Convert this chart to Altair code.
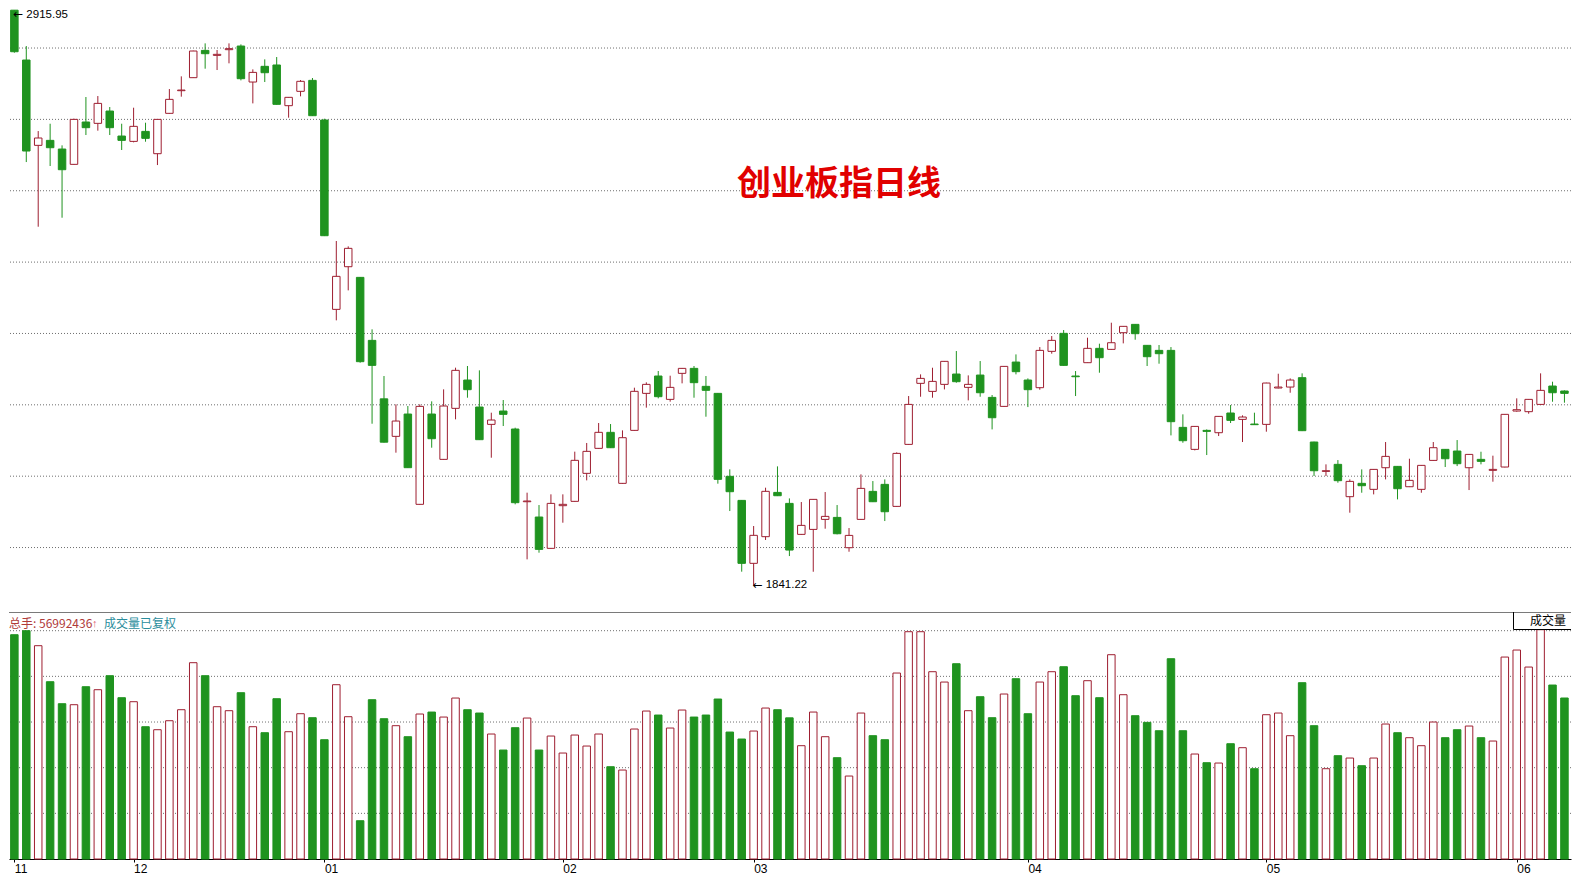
import altair as alt
import pandas as pd

# ---------------- data ----------------
opens = [2915.9, 2822.8, 2663.4, 2672.7, 2656.5, 2627.9, 2707.0, 2704.5, 2727.5, 2680.8,
         2670.8, 2689.5, 2647.8, 2723.2, 2765.5, 2789.8, 2840.8, 2831.5, 2842.1, 2848.9,
         2781.7, 2811.0, 2813.5, 2737.5, 2764.3, 2784.8, 2710.7, 2357.0, 2436.7, 2416.8,
         2299.1, 2189.9, 2119.8, 2161.5, 1992.8, 2161.5, 2076.8, 2172.1, 2225.0, 2174.6,
         2142.2, 2167.1, 2133.5, 1997.7, 1969.1, 1910.6, 1990.3, 1998.4, 2050.7, 2097.4,
         2127.3, 2032.0, 2131.0, 2200.1, 2232.5, 2188.9, 2237.5, 2246.8, 2213.2, 2200.1,
         2045.1, 2000.2, 1882.6, 1932.4, 2015.1, 1994.6, 1936.7, 1946.0, 1964.7, 1968.4,
         1911.8, 1964.7, 2017.0, 2030.1, 1989.0, 2104.8, 2218.8, 2203.8, 2216.9, 2236.2,
         2211.3, 2234.3, 2192.6, 2175.8, 2258.6, 2225.0, 2210.7, 2278.6, 2312.2, 2232.5,
         2257.4, 2284.2, 2282.3, 2313.4, 2329.0, 2289.8, 2280.4, 2280.4, 2136.6, 2095.5,
         2131.0, 2126.6, 2163.4, 2151.5, 2142.8, 2142.2, 2210.1, 2211.9, 2229.4, 2109.2,
         2054.4, 2067.5, 2007.1, 2032.0, 2020.8, 2061.2, 2063.7, 2025.7, 2020.8, 2074.9,
         2095.5, 2092.4, 2061.2, 2076.8, 2056.3, 2062.5, 2167.1, 2165.9, 2179.5, 2213.8,
         2204.5]
highs = [2915.95, 2848.9, 2690.1, 2703.8, 2663.4, 2713.2, 2753.7, 2755.5, 2735.0, 2703.8,
         2733.7, 2705.7, 2712.6, 2768.6, 2792.3, 2840.2, 2853.9, 2841.5, 2853.9, 2852.0,
         2805.3, 2824.0, 2828.4, 2753.7, 2785.4, 2789.2, 2713.2, 2484.7, 2474.7, 2417.4,
         2319.7, 2232.5, 2179.6, 2176.5, 2179.6, 2185.2, 2207.6, 2248.1, 2251.2, 2243.1,
         2164.0, 2187.7, 2136.0, 2014.6, 1991.5, 2011.5, 2011.5, 2091.2, 2107.4, 2144.7,
         2142.8, 2131.0, 2210.7, 2220.7, 2241.9, 2233.1, 2247.5, 2251.2, 2232.5, 2200.8,
         2058.2, 2000.9, 1952.3, 2023.9, 2063.7, 2003.9, 1997.1, 2002.7, 2015.8, 1991.5,
         1948.5, 2048.8, 2036.3, 2039.4, 2089.9, 2195.1, 2235.6, 2248.0, 2260.5, 2279.2,
         2233.7, 2260.5, 2197.0, 2251.1, 2272.9, 2228.1, 2286.6, 2307.2, 2318.4, 2241.8,
         2304.1, 2292.9, 2332.1, 2325.9, 2329.6, 2290.4, 2290.4, 2286.6, 2160.9, 2139.1,
         2132.8, 2157.7, 2178.3, 2159.0, 2164.0, 2220.0, 2236.8, 2228.1, 2237.5, 2109.8,
         2067.5, 2075.5, 2039.4, 2058.1, 2058.7, 2109.2, 2064.3, 2078.0, 2066.2, 2109.2,
         2096.1, 2112.9, 2086.8, 2091.1, 2083.7, 2161.5, 2190.8, 2189.5, 2237.5, 2221.9,
         2205.7]
lows = [2836.5, 2632.2, 2511.4, 2624.8, 2528.2, 2627.3, 2682.7, 2690.8, 2682.7, 2654.7,
        2669.0, 2670.2, 2626.6, 2722.5, 2754.3, 2789.2, 2806.6, 2804.1, 2816.6, 2784.8,
        2741.8, 2781.7, 2739.4, 2715.1, 2755.0, 2718.2, 2494.0, 2336.5, 2392.5, 2257.4,
        2143.4, 2108.3, 2089.3, 2060.7, 1992.1, 2098.6, 2076.2, 2151.6, 2192.0, 2113.0,
        2079.9, 2139.1, 1992.8, 1890.0, 1902.5, 1910.0, 1958.5, 1997.8, 2037.6, 2096.8,
        2098.0, 2031.4, 2130.4, 2173.4, 2190.8, 2184.6, 2218.8, 2192.0, 2156.5, 2031.4,
        1980.3, 1867.0, 1841.22, 1926.2, 2008.3, 1896.2, 1936.1, 1866.9, 1947.3, 1936.7,
        1904.3, 1964.1, 1997.1, 1961.6, 1988.4, 2104.2, 2193.8, 2192.0, 2207.5, 2220.0,
        2187.0, 2193.8, 2132.8, 2175.2, 2235.6, 2174.5, 2206.9, 2274.2, 2251.8, 2195.1,
        2256.8, 2238.7, 2281.7, 2293.5, 2300.3, 2251.2, 2255.5, 2121.6, 2107.9, 2093.6,
        2084.9, 2120.4, 2144.7, 2109.2, 2141.0, 2128.5, 2209.4, 2201.3, 2129.7, 2045.7,
        2045.7, 2033.2, 1977.2, 2014.5, 2011.4, 2039.4, 2002.1, 2025.1, 2014.5, 2074.3,
        2062.5, 2064.3, 2019.5, 2067.5, 2035.1, 2061.9, 2165.9, 2162.1, 2178.3, 2184.5,
        2182.7]
closes = [2838.3, 2652.8, 2677.1, 2659.0, 2617.9, 2711.9, 2696.4, 2741.8, 2696.4, 2672.7,
          2698.9, 2676.5, 2711.9, 2749.3, 2766.7, 2839.6, 2834.6, 2833.4, 2844.0, 2787.9,
          2799.7, 2799.1, 2740.0, 2753.1, 2783.0, 2718.8, 2494.6, 2418.7, 2471.0, 2259.3,
          2252.4, 2108.9, 2148.4, 2061.3, 2175.8, 2115.4, 2176.5, 2243.1, 2207.0, 2113.6,
          2150.3, 2160.9, 1995.9, 1999.0, 1908.7, 1994.6, 1992.8, 2075.0, 2091.8, 2127.3,
          2098.6, 2117.3, 2203.9, 2216.9, 2193.9, 2211.3, 2246.8, 2220.1, 2205.8, 2039.5,
          2016.4, 1882.6, 1934.9, 2017.1, 2008.9, 1907.4, 1953.5, 2002.1, 1970.3, 1937.9,
          1934.8, 2022.6, 1997.7, 1979.0, 2088.0, 2179.5, 2228.1, 2222.5, 2259.9, 2221.9,
          2216.9, 2201.3, 2154.6, 2250.5, 2240.6, 2207.0, 2280.4, 2299.1, 2252.4, 2231.2,
          2284.2, 2266.7, 2294.7, 2325.3, 2311.6, 2268.6, 2274.2, 2147.2, 2111.7, 2138.4,
          2129.1, 2157.1, 2149.7, 2155.9, 2141.6, 2219.4, 2211.9, 2225.0, 2130.4, 2055.6,
          2055.6, 2037.0, 2035.7, 2027.6, 2058.1, 2082.4, 2022.0, 2037.6, 2065.6, 2098.6,
          2078.0, 2068.7, 2086.1, 2073.1, 2058.1, 2160.9, 2169.6, 2188.9, 2205.7, 2201.3,
          2200.1]
# volume in 10k lots (万手)
volumes = [7940, 8082, 7551, 6276, 5497, 5462, 6099, 5993, 6489, 5710,
           5568, 4683, 4577, 4895, 5285, 6949, 6489, 5391, 5250, 5887,
           4683, 4471, 5674, 4506, 5143, 5002, 4223, 6170, 5037, 1355,
           5639, 4966, 4719, 4329, 5132, 5202, 5025, 5698, 5285, 5167,
           4424, 3857, 4648, 4990, 3857, 4353, 3751, 4388, 3999, 4424,
           3267, 3149, 4601, 5238, 5096, 4636, 5273, 5025, 5096, 5663,
           4494, 4247, 4530, 5344, 5285, 4996, 4011, 5202, 4329, 3586,
           2937, 5167, 4365, 4223, 6583, 8046, 8046, 6630, 6264, 6913,
           5250, 5745, 5002, 5840, 6382, 5143, 6264, 6630, 6807, 5781,
           6312, 5710, 7232, 5816, 5073, 4836, 4541, 7090, 4541, 3716,
           3409, 3397, 4081, 3940, 3196, 5108, 5167, 4365, 6241, 4719,
           3196, 3657, 3574, 3303, 3574, 4778, 4471, 4294, 4011, 4849,
           4294, 4577, 4707, 4294, 4176, 7149, 7397, 6795, 8117, 6158,
           5699]
month_ticks = [0, 10, 26, 46, 62, 85, 105, 126]
month_labels = ["11", "12", "01", "02", "03", "04", "05", "06"]
price_grid = [2845.2, 2711.9, 2578.6, 2445.3, 2312.0, 2178.7, 2045.4, 1912.1]
vol_grid = [8082, 6466, 4849, 3233, 1616]
high_label = "2915.95"
low_label = "1841.22"
title_text = "创业板指日线"
vol_text = "总手: 56992436"
vol_note = "成交量已复权"
vol_box = "成交量"

# ---------------- table ----------------
n = len(opens)
df = pd.DataFrame({"i": list(range(n)), "open": opens, "high": highs, "low": lows,
                   "close": closes, "vol": volumes})
df["dir"] = ["up" if c >= o else "down" for o, c in zip(opens, closes)]
df["blo"] = df[["open", "close"]].min(axis=1)
df["bhi"] = df[["open", "close"]].max(axis=1)

RED = "#9e1e30"
GREEN = "#1f931f"
W = 1562
H_TOP = 602
H_VOL = 247
Y_TOP = 2918.1
Y_BOT = Y_TOP - H_TOP * 1.868
V_TOP = H_VOL * 35.4

xs = alt.Scale(domain=[-0.45, 130.55], nice=False, zero=False, padding=0)
ys = alt.Scale(domain=[Y_BOT, Y_TOP], nice=False, zero=False, padding=0)
vs = alt.Scale(domain=[0, V_TOP], nice=False, padding=0)
stroke_scale = alt.Scale(domain=["up", "down"], range=[RED, GREEN])
fill_scale = alt.Scale(domain=["up", "down"], range=["white", GREEN])
one = pd.DataFrame({"a": [0]})

# ---------------- price panel ----------------
grid = alt.Chart(pd.DataFrame({"p": price_grid})).mark_rule(
    color="#6e6e6e", strokeDash=[1, 2], strokeWidth=1
).encode(y=alt.Y("p:Q", scale=ys, axis=None))

wick = alt.Chart(df).mark_rule(strokeWidth=1).encode(
    x=alt.X("i:Q", scale=xs, axis=None),
    y=alt.Y("low:Q", scale=ys, axis=None),
    y2="high:Q",
    stroke=alt.Stroke("dir:N", scale=stroke_scale, legend=None),
)
body = alt.Chart(df).mark_bar(size=7.5, strokeWidth=1).encode(
    x=alt.X("i:Q", scale=xs, axis=None),
    y=alt.Y("blo:Q", scale=ys, axis=None),
    y2="bhi:Q",
    fill=alt.Fill("dir:N", scale=fill_scale, legend=None),
    stroke=alt.Stroke("dir:N", scale=stroke_scale, legend=None),
)

ext_df = pd.DataFrame({
    "i": [0, lows.index(min(lows))],
    "p": [max(highs), min(lows)],
    "t": [high_label, low_label],
    "b": ["hi", "lo"],
})
hi_df = ext_df[ext_df.b == "hi"]
lo_df = ext_df[ext_df.b == "lo"]


def ext_label(d, baseline, dy):
    enc = dict(x=alt.X("i:Q", scale=xs, axis=None), y=alt.Y("p:Q", scale=ys, axis=None))
    arrow = alt.Chart(d).mark_text(
        text="←", align="left", baseline=baseline, font="DejaVu Sans", fontSize=12,
        color="black", dy=dy, dx=-1
    ).encode(**enc)
    num = alt.Chart(d).mark_text(
        align="left", baseline=baseline, font="Liberation Sans", fontSize=11.5,
        color="black", dx=12, dy=dy
    ).encode(text="t:N", **enc)
    return arrow + num


hi_lab = ext_label(hi_df, "top", -1)
lo_lab = ext_label(lo_df, "middle", 0)

title = alt.Chart(one).mark_text(
    text=title_text, font="Noto Sans CJK SC", fontSize=34, fontWeight="bold",
    color="#e10000", align="center", baseline="middle"
).encode(x=alt.value(830), y=alt.value(176))

top = alt.layer(grid, wick, body, hi_lab, lo_lab, title).properties(width=W, height=H_TOP)

# ---------------- volume panel ----------------
label_expr = " : ".join(
    f"datum.value == {v} ? '{l}'" for v, l in zip(month_ticks, month_labels)
) + " : ''"

vgrid = alt.Chart(pd.DataFrame({"v": vol_grid})).mark_rule(
    color="#6e6e6e", strokeDash=[1, 2], strokeWidth=1
).encode(y=alt.Y("v:Q", scale=vs, axis=None))

vbars = alt.Chart(df).mark_bar(size=7.5, strokeWidth=1).encode(
    x=alt.X("i:Q", scale=xs, axis=alt.Axis(
        values=month_ticks, labelExpr=label_expr, title=None, grid=False,
        domainColor="black", domainWidth=1, tickColor="black", tickSize=3,
        labelAlign="left", labelFlush=False, labelPadding=1, labelBaseline="top",
        labelFont="Liberation Sans", labelFontSize=12, labelColor="black",
        labelOverlap=False)),
    y=alt.Y("vol:Q", scale=vs, axis=None),
    fill=alt.Fill("dir:N", scale=fill_scale, legend=None),
    stroke=alt.Stroke("dir:N", scale=stroke_scale, legend=None),
)
sep = alt.Chart(one).mark_rule(color="#7a7a7a", strokeWidth=1).encode(y=alt.value(0.5))
t1 = alt.Chart(one).mark_text(text=vol_text, font="Noto Sans CJK SC", fontSize=12,
                              color="#b03a3a", align="left", baseline="middle"
                              ).encode(x=alt.value(0), y=alt.value(11.5))
t1b = alt.Chart(one).mark_text(text="↑", font="Liberation Sans", fontSize=11,
                               color="#e06070", align="left", baseline="middle"
                               ).encode(x=alt.value(83), y=alt.value(11.5))
t2 = alt.Chart(one).mark_text(text=vol_note, font="Noto Sans CJK SC", fontSize=12,
                              color="#2a8d9c", align="left", baseline="middle"
                              ).encode(x=alt.value(95), y=alt.value(11.5))
box_v = alt.Chart(one).mark_rule(color="black", strokeWidth=1).encode(
    x=alt.value(1504.5), y=alt.value(0), y2=alt.value(17.5))
box_h = alt.Chart(one).mark_rule(color="black", strokeWidth=1).encode(
    x=alt.value(1504.5), x2=alt.value(1562), y=alt.value(17.5))
t3 = alt.Chart(one).mark_text(text=vol_box, font="Noto Sans CJK SC", fontSize=12,
                              color="black", align="right", baseline="middle"
                              ).encode(x=alt.value(1557), y=alt.value(9))

bottom = alt.layer(vgrid, vbars, sep, t1, t1b, t2, box_v, box_h, t3).properties(width=W, height=H_VOL)

chart = alt.vconcat(top, bottom, spacing=0).properties(
    padding=0, background="white"
).configure_view(strokeWidth=0).resolve_scale(x="independent")

chart.save("out.html", embed_options={"renderer": "svg", "actions": False})
